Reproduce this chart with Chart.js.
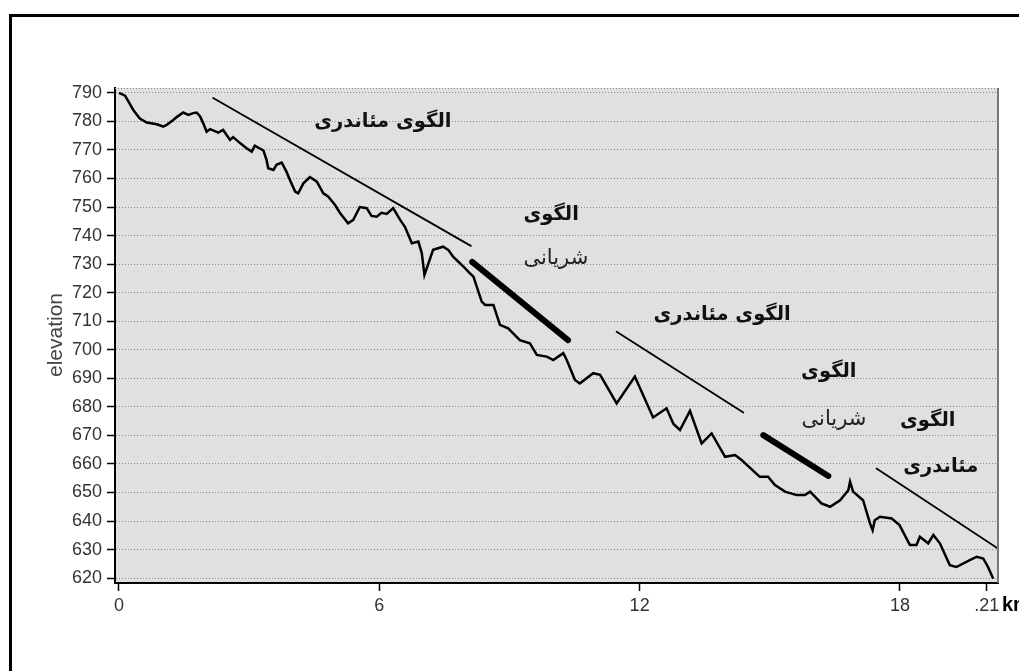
<!DOCTYPE html>
<html><head><meta charset="utf-8">
<script src="https://cdn.jsdelivr.net/npm/chart.js@4/dist/chart.umd.min.js"></script>
<style>html,body{margin:0;padding:0;background:#fff;overflow:hidden}</style>
</head><body>
<canvas id="c" width="1019" height="671"></canvas>
<script>
// ---- data ----
const distanceKm = [0,0.14,0.33,0.48,0.64,0.87,1.02,1.10,1.25,1.33,1.48,1.60,1.71,1.79,1.87,1.94,2.02,2.10,2.29,2.40,2.56,2.63,2.79,2.94,3.06,3.13,3.33,3.40,3.44,3.56,3.63,3.75,3.86,3.94,4.06,4.13,4.25,4.40,4.56,4.71,4.82,4.98,5.09,5.28,5.40,5.55,5.71,5.82,5.94,6.05,6.17,6.32,6.48,6.59,6.75,6.90,6.98,7.04,7.24,7.47,7.59,7.70,7.94,8.09,8.17,8.36,8.44,8.63,8.78,8.97,9.24,9.47,9.63,9.86,10.01,10.24,10.32,10.51,10.62,10.93,11.09,11.47,11.89,12.31,12.62,12.78,12.93,13.16,13.43,13.66,13.97,14.20,14.35,14.77,14.96,15.12,15.35,15.62,15.81,15.93,16.19,16.39,16.62,16.81,16.85,16.92,17.15,17.31,17.37,17.42,17.54,17.81,17.99,18.23,18.38,18.46,18.65,18.77,18.92,19.15,19.30,19.61,19.77,19.92,20.03,20.15];
const elevationM = [790,789,784,781,779.6,779,778.2,778.8,780.5,781.5,783.1,782.3,782.9,783.1,781.7,779.4,776.4,777.3,776.1,777,773.5,774.5,772.4,770.6,769.4,771.5,769.8,766.5,763.6,763,764.8,765.6,762.4,759.5,755.4,754.8,758.3,760.5,758.9,754.8,753.7,750.7,748,744.3,745.5,750,749.6,746.9,746.6,748,747.6,749.6,745.5,743.1,737.3,737.9,733.8,726.2,735,736.1,735,732.6,729.1,726.8,725.6,716.9,715.7,715.7,708.7,707.5,703.4,702.3,698.2,697.6,696.4,698.8,696.4,689.4,688.2,691.8,691.2,681.2,690.6,676.3,679.5,674,671.9,678.6,667.2,670.7,662.5,663.1,661.4,655.5,655.5,652.6,650.3,649.1,649.1,650.3,646.2,645,647.3,650.8,653.8,650.3,647.3,639.2,636.8,640.3,641.5,640.9,638.6,631.6,631.6,634.5,632.2,635.1,632.2,624.5,623.9,626.3,627.5,626.9,623.9,619.8];

const xTickValues = [0,6,12,18,20];
const xTickLabels = ['0','6','12','18','.21'];
const yTickValues = [620,630,640,650,660,670,680,690,700,710,720,730,740,750,760,770,780,790];

// trend lines (start/end in km and m)
const trendStartKm   = [2.17, 8.14, 11.47, 14.85, 17.46];
const trendStartElev = [788.2, 730.8, 706.3, 670.1, 658.4];
const trendEndKm     = [8.11, 10.35, 14.39, 16.35, 20.25];
const trendEndElev   = [736.4, 703.4, 678.0, 655.8, 630.5];
const trendThick     = [false, true, false, true, false];

// annotation labels (anchor in km / m)
const labelTexts = ['الگوی مئاندری','الگوی','شریانی','الگوی مئاندری','الگوی','شریانی','الگوی','مئاندری'];
const labelKm    = [6.08, 9.96, 10.07, 13.90, 16.36, 16.48, 18.64, 18.94];
const labelElev  = [779.8, 747.2, 731.8, 712.2, 692.2, 675.4, 675.0, 658.9];
const labelBold  = [true, true, false, true, true, false, true, true];

// ---- chart ----
const datasets = [{
  data: distanceKm.map((x,i)=>({x, y: elevationM[i]})),
  borderColor:'#000', borderWidth:2.5, pointRadius:0, tension:0, fill:false
}];
trendStartKm.forEach((x,i)=>{
  datasets.push({
    data:[{x, y:trendStartElev[i]},{x:trendEndKm[i], y:trendEndElev[i]}],
    borderColor:'#000', borderWidth: trendThick[i]?6:1.8, borderCapStyle:'round',
    pointRadius:0, tension:0, fill:false
  });
});

const deco = {
  id:'deco',
  beforeDraw(chart){
    const {ctx, chartArea:a} = chart;
    ctx.save();
    ctx.fillStyle='#fff'; ctx.fillRect(0,0,chart.width,chart.height);
    ctx.strokeStyle='#000'; ctx.lineWidth=3;
    ctx.strokeRect(10.5,15.5,1200,1000);
    ctx.fillStyle='#e0e0e0';
    ctx.fillRect(a.left,a.top,a.right-a.left,a.bottom-a.top);
    ctx.restore();
  },
  afterDraw(chart){
    const {ctx, chartArea:a, scales} = chart;
    ctx.save();
    ctx.strokeStyle='#8a8a8a'; ctx.lineWidth=1; ctx.setLineDash([1,2]);
    ctx.beginPath(); ctx.moveTo(a.left, a.top+0.5); ctx.lineTo(a.right, a.top+0.5); ctx.stroke();
    ctx.setLineDash([]); ctx.lineWidth=2; ctx.strokeStyle='#777';
    ctx.beginPath(); ctx.moveTo(a.right, a.top); ctx.lineTo(a.right, a.bottom); ctx.stroke();
    ctx.fillStyle='#444'; ctx.font='21px "Liberation Sans"';
    ctx.textAlign='center'; ctx.textBaseline='middle';
    ctx.translate(56,335); ctx.rotate(-Math.PI/2); ctx.fillText('elevation',0,0);
    ctx.setTransform(1,0,0,1,0,0);
    ctx.fillStyle='#000'; ctx.font='bold 20px "Liberation Sans"';
    ctx.textAlign='left'; ctx.textBaseline='top';
    ctx.fillText('km', 1002, 595);
    ctx.textAlign='center'; ctx.textBaseline='middle'; ctx.direction='rtl';
    labelTexts.forEach((t,i)=>{
      ctx.font=(labelBold[i]?'bold 19.5px ':'21px ')+'"DejaVu Sans"';
      ctx.fillStyle = labelBold[i]?'#111':'#222';
      ctx.fillText(t, scales.x.getPixelForValue(labelKm[i]), scales.y.getPixelForValue(labelElev[i]));
    });
    ctx.restore();
  }
};

new Chart(document.getElementById('c'), {
  type:'line',
  data:{datasets},
  options:{
    responsive:false, animation:false, devicePixelRatio:1,
    layout:{padding:{left:0,top:88,right:21,bottom:0}, autoPadding:false},
    plugins:{legend:{display:false}, tooltip:{enabled:false}},
    scales:{
      x:{
        type:'linear', min:-0.092, max:20.26,
        afterBuildTicks: s=>{ s.ticks = xTickValues.map(v=>({value:v})); },
        afterFit: s=>{ s.height = 88; },
        ticks:{ autoSkip:false, maxRotation:0, color:'#333', padding:4,
          font:{family:'Liberation Sans', size:18},
          callback:(v)=>{ const i = xTickValues.indexOf(v); return i>=0?xTickLabels[i]:''; } },
        grid:{ drawOnChartArea:false, color:'#000', tickLength:8, tickWidth:1.5 },
        border:{ color:'#000', width:2 }
      },
      y:{
        type:'linear', min:618.3, max:791.7,
        afterBuildTicks: s=>{ s.ticks = yTickValues.map(v=>({value:v})); },
        afterFit: s=>{ s.width = 115; },
        ticks:{ color:'#333', padding:5, font:{family:'Liberation Sans', size:18},
          callback:v=>String(v) },
        grid:{ color:'#8a8a8a', lineWidth:1, tickColor:'#000', tickLength:8, tickWidth:1.5 },
        border:{ color:'#000', width:2, dash:[1,2] }
      }
    }
  },
  plugins:[deco]
});
</script>
</body></html>
